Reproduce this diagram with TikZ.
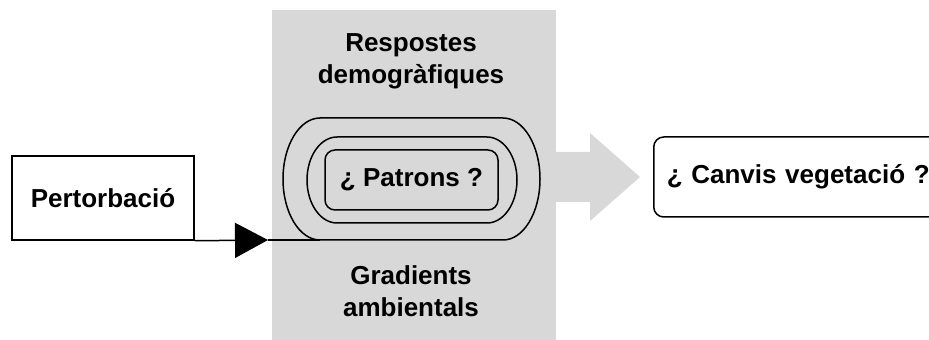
\documentclass[tikz,border=0pt]{standalone}
\usepackage{fontspec}
\setmainfont{Liberation Sans}
\usetikzlibrary{arrows.meta}
\definecolor{grisfons}{RGB}{216,216,216}
\tikzset{
    caixa/.style={draw, line width=1.5pt, inner sep=0pt, font=\bfseries},
    texte/.style={align=center, inner sep=0pt, font=\bfseries}
}

\begin{document}
\begin{tikzpicture}[x=1pt, y=1pt]
        \useasboundingbox (0,0) rectangle (929,340);
        \fontsize{26}{32}\selectfont

        % Le fond gris et la fleche grise
        \fill[grisfons] (272,0) rectangle (556,330);
        \fill[grisfons] (550,188) -- (590,188) -- (590,207) -- (640,163)
            -- (590,119) -- (590,138) -- (550,138) -- cycle;

        % Les textes du fond
        \node[texte] (resp) at (411,279) {Respostes\\demogràfiques};
        \node[texte] (grad) at (411,49) {Gradients\\ambientals};

        % Les anneaux
        \draw[line width=1.5pt] (320,222) -- (503,222)
            arc[start angle=90, end angle=-90, x radius=37, y radius=61]
            -- (320,100)
            arc[start angle=270, end angle=90, x radius=37, y radius=61] -- cycle;
        \draw[line width=1.5pt] (337,203) -- (487,203)
            arc[start angle=90, end angle=-90, x radius=30, y radius=43]
            -- (337,117)
            arc[start angle=270, end angle=90, x radius=30, y radius=43] -- cycle;
        \coordinate (bas) at (320,100);

        % Les boites
        \node[caixa, rounded corners=10pt, minimum width=173, minimum height=60]
            (patrons) at (411.5,160) {¿ Patrons ?};
        \node[caixa, minimum width=182, minimum height=84]
            (pert) at (103,142) {Pertorbació};
        \node[caixa, rounded corners=10pt, anchor=west, minimum width=296, minimum height=80,
            text width=270, align=left, inner xsep=4pt]
            (canvis) at (653,163) {¿ Canvis vegetació ?};

        % La fleche noire
        \coordinate (pointe) at (268,100);
        \draw[line width=1.5pt, -{Triangle[length=33pt, width=35pt]}] (pert.south east) -- (pointe);
        \draw[line width=1.5pt] (pointe) -- (bas);
    \end{tikzpicture}
\end{document}
